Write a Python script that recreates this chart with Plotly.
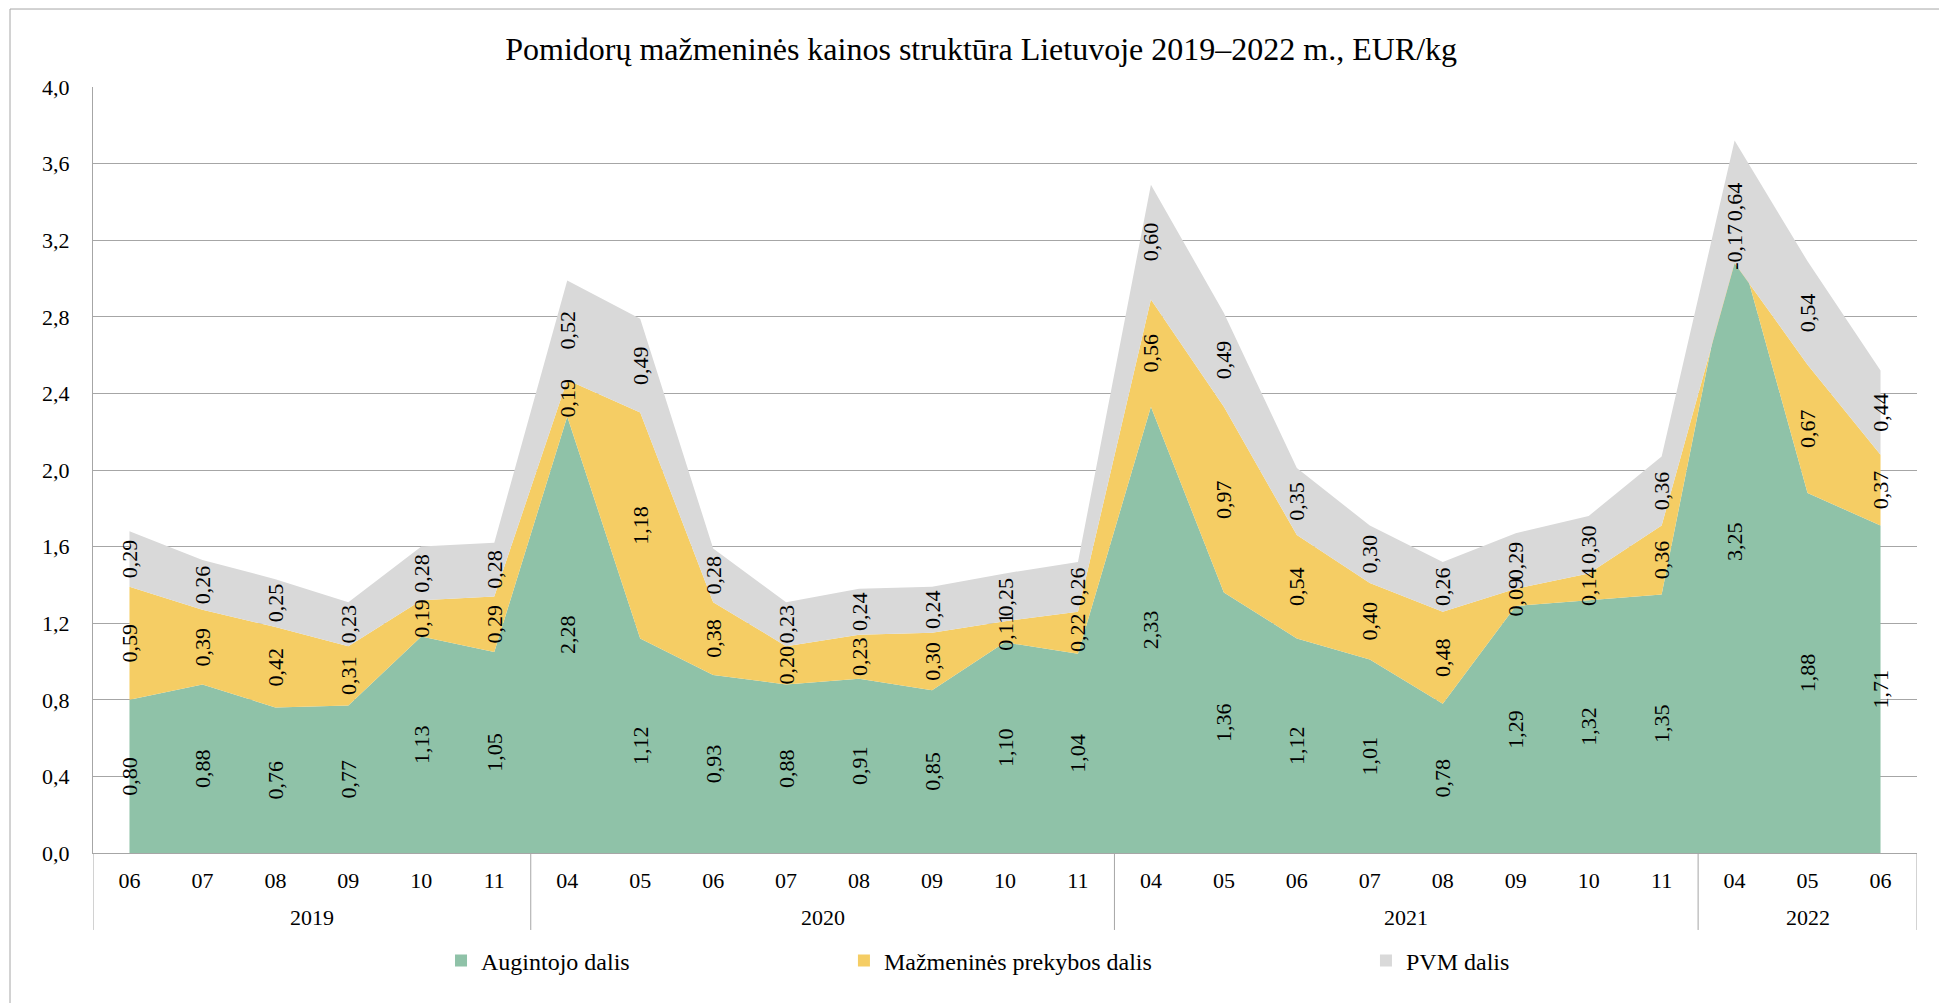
import plotly.graph_objects as go

years = ["2019"] * 6 + ["2020"] * 8 + ["2021"] * 8 + ["2022"] * 3
months = ["06", "07", "08", "09", "10", "11",
          "04", "05", "06", "07", "08", "09", "10", "11",
          "04", "05", "06", "07", "08", "09", "10", "11",
          "04", "05", "06"]

grower = [0.80, 0.88, 0.76, 0.77, 1.13, 1.05,
          2.28, 1.12, 0.93, 0.88, 0.91, 0.85, 1.10, 1.04,
          2.33, 1.36, 1.12, 1.01, 0.78, 1.29, 1.32, 1.35,
          3.25, 1.88, 1.71]
retail = [0.59, 0.39, 0.42, 0.31, 0.19, 0.29,
          0.19, 1.18, 0.38, 0.20, 0.23, 0.30, 0.11, 0.22,
          0.56, 0.97, 0.54, 0.40, 0.48, 0.09, 0.14, 0.36,
          -0.17, 0.67, 0.37]
vat = [0.29, 0.26, 0.25, 0.23, 0.28, 0.28,
       0.52, 0.49, 0.28, 0.23, 0.24, 0.24, 0.25, 0.26,
       0.60, 0.49, 0.35, 0.30, 0.26, 0.29, 0.30, 0.36,
       0.64, 0.54, 0.44]

series_names = ["Augintojo dalis", "Mažmeninės prekybos dalis", "PVM dalis"]
colors = ["#8FC2A8", "#F5CD64", "#D9D9D9"]

FONT = "Liberation Serif, Times New Roman, serif"
GRID = "#A6A6A6"

periods = [f"{y}-{m}" for y, m in zip(years, months)]

fig = go.Figure()

# stacked areas
for name, vals, col in zip(series_names, [grower, retail, vat], colors):
    fig.add_trace(go.Scatter(
        x=periods, y=vals, name=name, stackgroup="one", mode="none",
        fillcolor=col, line=dict(width=0), showlegend=False, hoverinfo="skip",
    ))

# data labels: invisible stacked bars on an overlaid axis so text sits above areas
for vals in [grower, retail, vat]:
    fig.add_trace(go.Bar(
        x=periods, y=vals, xaxis="x2",
        text=[f"{v:.2f}".replace(".", ",") for v in vals],
        textposition="inside", textangle=-90, insidetextanchor="middle",
        constraintext="none",
        insidetextfont=dict(family=FONT, size=22, color="#000000"),
        marker=dict(color="rgba(0,0,0,0)", line=dict(width=0)),
        showlegend=False, hoverinfo="skip",
    ))

# legend entries (square swatches)
for i, (name, col) in enumerate(zip(series_names, colors)):
    fig.add_trace(go.Scatter(
        x=[periods[0]], y=[None], name=name, mode="markers",
        marker=dict(symbol="square", size=12, color=col),
        legend="legend" if i == 0 else f"legend{i + 1}",
    ))

# year group labels and dividers under the month labels
year_groups = []
for i, y in enumerate(years):
    if not year_groups or year_groups[-1][0] != y:
        year_groups.append([y, i, i])
    else:
        year_groups[-1][2] = i

annotations = []
shapes = []
for y, first, last in year_groups:
    annotations.append(dict(text=y, x=(first + last) / 2, xref="x", y=-0.0836, yref="paper",
                            yanchor="middle", showarrow=False,
                            font=dict(family=FONT, size=22, color="#000000")))
    shapes.append(dict(type="line", xref="x", yref="paper", x0=first - 0.5, x1=first - 0.5,
                       y0=0, y1=-0.1005, line=dict(color=GRID, width=1)))
shapes.append(dict(type="line", xref="x", yref="paper",
                   x0=year_groups[-1][2] + 0.5, x1=year_groups[-1][2] + 0.5,
                   y0=0, y1=-0.1005, line=dict(color=GRID, width=1)))
# chart-area frame
shapes.append(dict(type="rect", xref="paper", yref="paper",
                   x0=-0.0455, x1=1.2, y0=-0.5, y1=1.1018,
                   line=dict(color=GRID, width=1), fillcolor="rgba(0,0,0,0)", layer="below"))

legend_style = dict(orientation="h", yanchor="middle", xanchor="left", y=-0.141,
                    font=dict(family=FONT, size=24, color="#000000"),
                    bgcolor="rgba(0,0,0,0)")

fig.update_layout(
    width=1939, height=1003,
    margin=dict(l=93, r=22, t=87, b=150),
    paper_bgcolor="white", plot_bgcolor="white",
    separators=", ",
    barmode="stack", bargap=0.2,
    font=dict(family=FONT, size=22, color="#000000"),
    title=dict(text="Pomidorų mažmeninės kainos struktūra Lietuvoje 2019–2022 m., EUR/kg",
               x=0.506, xref="container", xanchor="center",
               y=0.951, yref="container", yanchor="middle",
               font=dict(family=FONT, size=32, color="#000000")),
    xaxis=dict(type="category", range=[-0.5, len(periods) - 0.5],
               showline=True, linecolor=GRID, linewidth=1,
               tickmode="array", tickvals=periods, ticktext=months,
               ticks="", showgrid=False, ticklabelstandoff=8,
               tickfont=dict(family=FONT, size=22)),
    xaxis2=dict(type="category", overlaying="x", matches="x", visible=False),
    yaxis=dict(range=[0, 4], dtick=0.4, tickformat=".1f", showgrid=True,
               gridcolor=GRID, gridwidth=1, zeroline=False,
               showline=True, linecolor=GRID, linewidth=1, ticks="",
               ticklabelstandoff=18, tickfont=dict(family=FONT, size=22)),
    legend=dict(x=0.1908, **legend_style),
    legend2=dict(x=0.4117, **legend_style),
    legend3=dict(x=0.6979, **legend_style),
    annotations=annotations,
    shapes=shapes,
)

fig.write_html("out.html", config={"displayModeBar": False},
               post_script="document.body.style.margin='0';")
